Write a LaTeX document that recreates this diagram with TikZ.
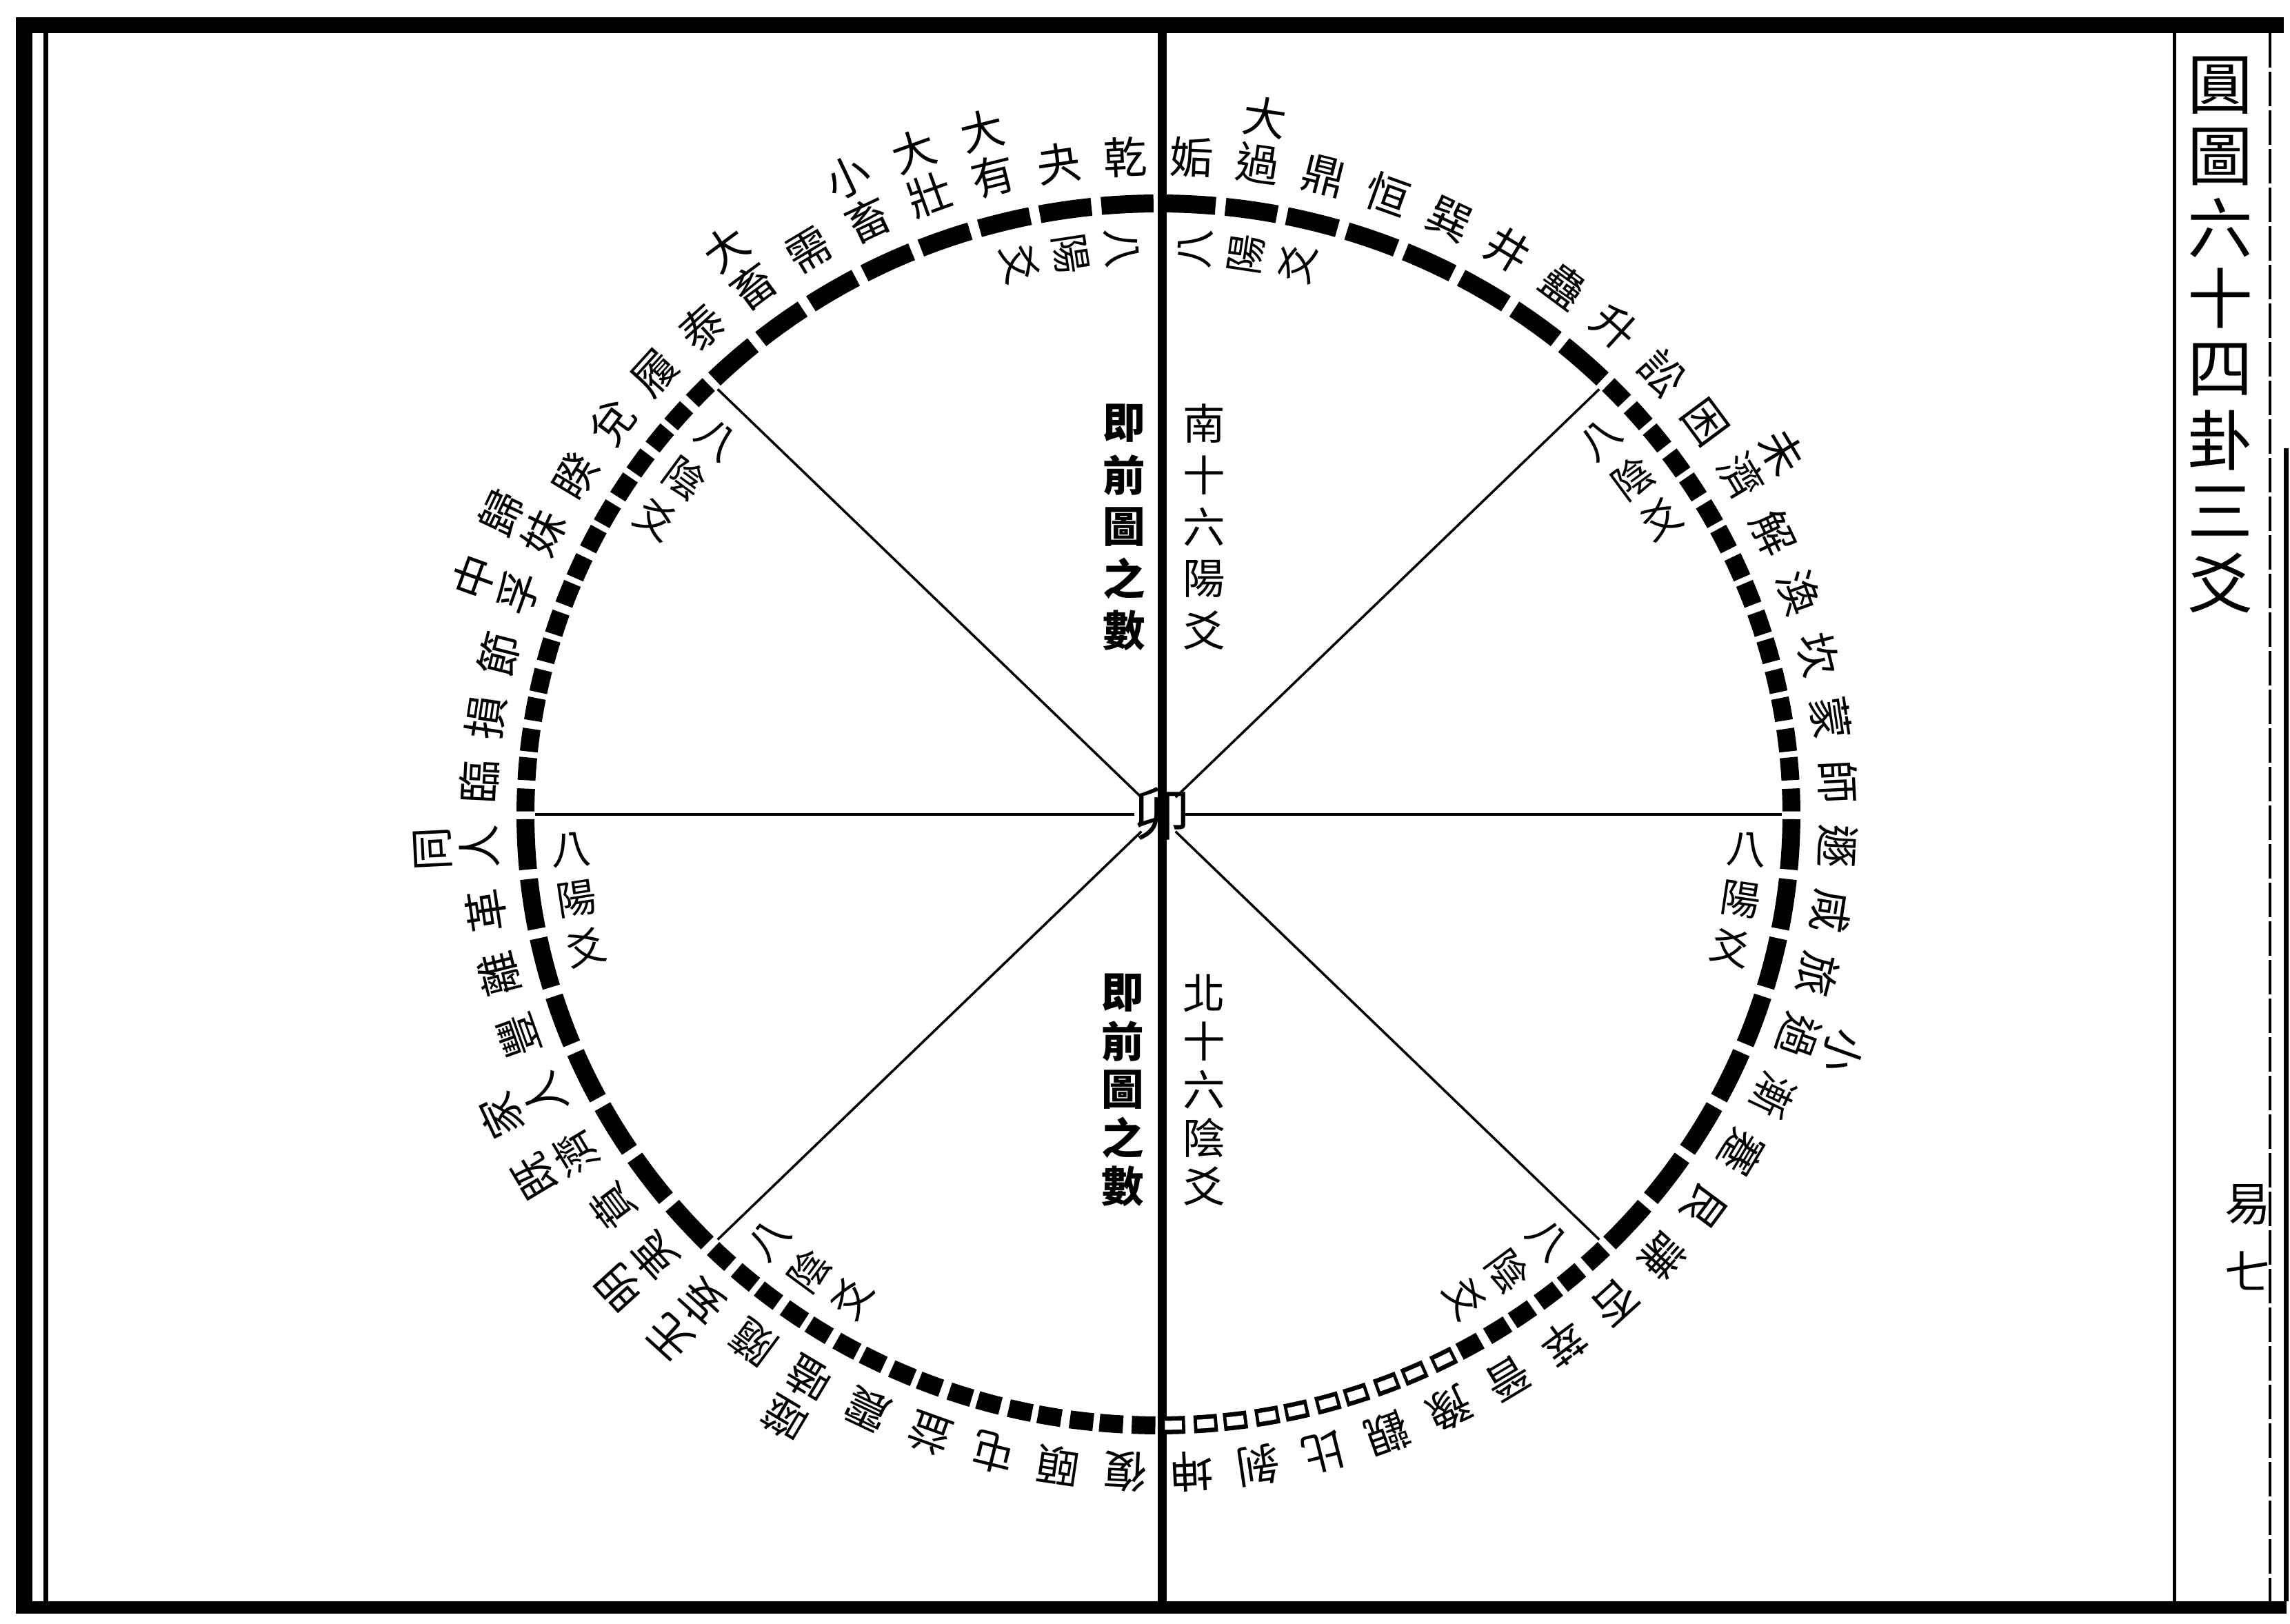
\documentclass[tikz,border=0pt]{standalone}
\usepackage{fontspec}
\newfontfamily\cjk{Noto Sans CJK TC}
\newcommand\yarc[3]{\draw[#3] (C) ++(#1:\rx cm and \ry cm) arc[start angle=#1,end angle=#2,x radius=\rx cm,y radius=\ry cm];}
\begin{document}
\begin{tikzpicture}[x=1cm,y=1cm,
  gua/.style={font=\cjk\fontsize{18}{18}\selectfont, inner sep=0pt},
  inlab/.style={font=\cjk\fontsize{16.5}{16.5}\selectfont, inner sep=0pt},
  midtxt/.style={font=\cjk\fontsize{17.5}{17.5}\selectfont, inner sep=0pt},
  midbold/.style={font=\cjk\bfseries\fontsize{17.5}{17.5}\selectfont, inner sep=0pt},
  ttl/.style={font=\cjk\fontsize{27}{27}\selectfont, inner sep=0pt},
  pg/.style={font=\cjk\fontsize{19}{19}\selectfont, inner sep=0pt},
  radial/.style={line width=0.035cm},
  yao/.style={line width=0.26cm},
  hole/.style={line width=0.13cm, white},
  frame/.style={fill=black},
]
\def\cx{16.80}\def\cy{11.74}\def\rx{9.18}\def\ry{8.86}\def\W{5.625}
\useasboundingbox (0,0) rectangle (33.21,23.55);
\fill[white] (0,0) rectangle (33.21,23.55);
\coordinate (C) at (\cx,\cy);

% frame
\fill[frame] (0.23,23.07) rectangle (33.12,23.30);
\fill[frame] (0.23,0.17) rectangle (0.47,23.30);
\fill[frame] (0.23,0.15) rectangle (33.16,0.33);
\coordinate (f1t) at (0.66,23.07); \coordinate (f1b) at (0.66,0.33);
\coordinate (f2t) at (31.53,23.07); \coordinate (f2b) at (31.53,0.33);
\coordinate (f3t) at (32.92,23.07); \coordinate (f3b) at (32.92,0.33);
\coordinate (f4t) at (33.15,17.05); \coordinate (f4b) at (33.15,0.33);
\draw[line width=0.07cm] (f1t) -- (f1b);
\draw[line width=0.05cm] (f2t) -- (f2b);
\draw[line width=0.045cm, dash pattern=on 0.5cm off 0.06cm] (f3t) -- (f3b);
\draw[line width=0.07cm] (f4t) -- (f4b);

% central vertical line
\coordinate (vt) at (16.85,23.07); \coordinate (vb) at (16.85,0.33);
\draw[line width=0.13cm] (vt) -- (vb);

% radial lines
\foreach \ang in {0,45,135,180,225,315}{
  \pgfmathsetmacro\ix{\cx+0.35*cos(\ang)}
  \pgfmathsetmacro\iy{\cy+0.35*sin(\ang)}
  \pgfmathsetmacro\ox{\cx+(\rx-0.14)*cos(\ang)}
  \pgfmathsetmacro\oy{\cy+(\ry-0.14)*sin(\ang)}
  \coordinate (ri\ang) at (\ix,\iy);
  \coordinate (ro\ang) at (\ox,\oy);
  \draw[radial] (ri\ang) -- (ro\ang);
}

% ring of third lines
\foreach \k in {0,...,31}{
  \pgfmathtruncatemacro\g{mod(floor(\k/8),2)}
  \foreach \s in {1,-1}{
    \pgfmathsetmacro\tA{90+\s*(\k+0.5)*\W}
    \ifnum\g=0
      \pgfmathsetmacro\aa{\tA-0.42*\W}\pgfmathsetmacro\ab{\tA+0.42*\W}
      \yarc{\aa}{\ab}{yao}
    \else
      \pgfmathsetmacro\aa{\tA-0.45*\W}\pgfmathsetmacro\ab{\tA-0.07*\W}
      \pgfmathsetmacro\ac{\tA+0.07*\W}\pgfmathsetmacro\ad{\tA+0.45*\W}
      \yarc{\aa}{\ab}{yao}
      \yarc{\ac}{\ad}{yao}
      \pgfmathtruncatemacro\hol{(\s<0)&&(\k>26)}
      \ifnum\hol=1
        \pgfmathsetmacro\aa{\aa+0.3}\pgfmathsetmacro\ab{\ab-0.3}
        \pgfmathsetmacro\ac{\ac+0.3}\pgfmathsetmacro\ad{\ad-0.3}
        \yarc{\aa}{\ab}{hole}
        \yarc{\ac}{\ad}{hole}
      \fi
    \fi
  }
}

% names, left half (counter-clockwise from top)
\foreach \outc/\inc [count=\k from 0] in {/乾,/夬,大/有,大/壯,小/畜,/需,大/畜,/泰,/履,/兌,/睽,歸/妹,中/孚,/節,/損,/臨,同/人,/革,/離,/豐,家/人,既/濟,/賁,明/夷,无/妄,/隨,噬/嗑,/震,/益,/屯,/頤,/復}{
  \pgfmathsetmacro\tA{90+(\k+0.5)*\W}
  \pgfmathsetmacro\rr{\tA-90}
  \pgfmathsetmacro\px{\cx+(\rx+0.68)*cos(\tA)}
  \pgfmathsetmacro\py{\cy+(\ry+0.68)*sin(\tA)}
  \pgfmathsetmacro\qx{\cx+(\rx+1.36)*cos(\tA)}
  \pgfmathsetmacro\qy{\cy+(\ry+1.36)*sin(\tA)}
  \node[gua,rotate=\rr] (li\k) at (\px,\py) {\inc};
  \node[gua,rotate=\rr] (lo\k) at (\qx,\qy) {\outc};
}
% names, right half (clockwise from top)
\foreach \outc/\inc [count=\k from 0] in {/姤,大/過,/鼎,/恒,/巽,/井,/蠱,/升,/訟,/困,未/濟,/解,/渙,/坎,/蒙,/師,/遯,/咸,/旅,小/過,/漸,/蹇,/艮,/謙,/否,/萃,/晉,/豫,/觀,/比,/剝,/坤}{
  \pgfmathsetmacro\tA{90-(\k+0.5)*\W}
  \pgfmathsetmacro\rr{\tA-90}
  \pgfmathsetmacro\px{\cx+(\rx+0.68)*cos(\tA)}
  \pgfmathsetmacro\py{\cy+(\ry+0.68)*sin(\tA)}
  \pgfmathsetmacro\qx{\cx+(\rx+1.36)*cos(\tA)}
  \pgfmathsetmacro\qy{\cy+(\ry+1.36)*sin(\tA)}
  \node[gua,rotate=\rr] (ri\k) at (\px,\py) {\inc};
  \node[gua,rotate=\rr] (ro\k) at (\qx,\qy) {\outc};
}

% inner labels
\foreach \ang/\s/\txt [count=\n] in {90/1/陽,90/-1/陽,135/1/陰,45/-1/陰,180/1/陽,0/-1/陽,225/1/陰,315/-1/陰}{
  \foreach \ch/\off [count=\m] in {八/3.6,\txt/8.6,爻/13.6}{
    \pgfmathsetmacro\tA{\ang+\s*\off}
    \pgfmathsetmacro\rr{ifthenelse(\s>0,\tA-180,\tA)}
    \pgfmathsetmacro\px{\cx+(\rx-0.64)*cos(\tA)}
    \pgfmathsetmacro\py{\cy+(\ry-0.64)*sin(\tA)}
    \node[inlab,rotate=\rr] (in\n-\m) at (\px,\py) {\ch};
  }
}

% centre
\node[font=\cjk\fontsize{24}{24}\selectfont, inner sep=0pt] (ctr) at (16.85,11.75) {卯};

% central columns
\foreach \ch [count=\i from 0] in {即,前,圖,之,數}{
  \node[midbold] (ua\i) at (16.30,17.41-0.75*\i) {\ch};
  \node[midbold] (la\i) at (16.28,9.15-0.70*\i) {\ch};
}
\foreach \ch [count=\i from 0] in {南,十,六,陽,爻}{
  \node[midtxt] (ub\i) at (17.46,17.41-0.75*\i) {\ch};
}
\foreach \ch [count=\i from 0] in {北,十,六,陰,爻}{
  \node[midtxt] (lb\i) at (17.46,9.15-0.70*\i) {\ch};
}

% side panel
\foreach \ch [count=\i from 0] in {圓,圖,六,十,四,卦,三,爻}{
  \node[ttl] (t\i) at (32.20,22.31-1.03*\i) {\ch};
}
\node[pg] (p1) at (32.60,6.08) {易};
\node[pg] (p2) at (32.60,5.12) {七};
\end{tikzpicture}
\end{document}
